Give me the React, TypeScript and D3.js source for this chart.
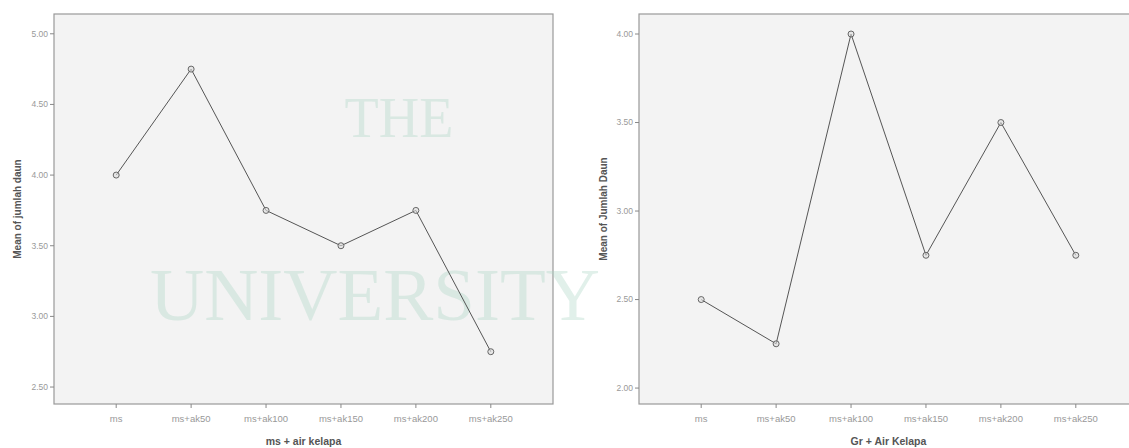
import React from "react";
import * as d3 from "d3";

const categories = ["ms", "ms+ak50", "ms+ak100", "ms+ak150", "ms+ak200", "ms+ak250"];
const leftValues = [4.0, 4.75, 3.75, 3.5, 3.75, 2.75];
const rightValues = [2.5, 2.25, 4.0, 2.75, 3.5, 2.75];
const leftTicks = [2.5, 3.0, 3.5, 4.0, 4.5, 5.0];
const rightTicks = [2.0, 2.5, 3.0, 3.5, 4.0];
const leftYTitle = "Mean of jumlah daun";
const rightYTitle = "Mean of Jumlah Daun";
const leftXTitle = "ms + air kelapa";
const rightXTitle = "Gr + Air Kelapa";

const W = 1129;
const H = 448;
const TOP = 14;
const BOTTOM = 404;
const FONT = "'Liberation Sans', Arial, sans-serif";

type PanelProps = {
  x0: number;
  x1: number;
  values: number[];
  ticks: number[];
  domain: [number, number];
  yTitle: string;
  xTitle: string;
  titleX: number;
  yTitleOffset: number;
};

function Panel({ x0, x1, values, ticks, domain, yTitle, xTitle, titleX, yTitleOffset }: PanelProps) {
  const x = d3.scalePoint<string>().domain(categories).range([x0, x1]).padding(0.83);
  const y = d3.scaleLinear().domain(domain).range([BOTTOM, TOP]);
  const line = d3
    .line<number>()
    .x((_, i) => x(categories[i]) as number)
    .y((d) => y(d));
  const midY = (TOP + BOTTOM) / 2;
  return (
    <g>
      {ticks.map((t) => (
        <g key={t}>
          <line x1={x0 - 4} x2={x0} y1={y(t)} y2={y(t)} stroke="#888" strokeWidth={1} />
          <text
            x={x0 - 6}
            y={y(t)}
            dy="0.33em"
            textAnchor="end"
            fontSize={8.5}
            fill="#999"
            fontFamily={FONT}
          >
            {t.toFixed(2)}
          </text>
        </g>
      ))}
      {categories.map((c) => (
        <g key={c}>
          <line x1={x(c)} x2={x(c)} y1={BOTTOM} y2={BOTTOM + 4} stroke="#888" strokeWidth={1} />
          <text
            x={x(c)}
            y={BOTTOM + 18}
            textAnchor="middle"
            fontSize={9.5}
            fill="#999"
            fontFamily={FONT}
          >
            {c}
          </text>
        </g>
      ))}
      <text
        transform={`translate(${x0 - yTitleOffset},${midY}) rotate(-90)`}
        textAnchor="middle"
        fontSize={10}
        fontWeight="bold"
        fill="#555"
        fontFamily={FONT}
      >
        {yTitle}
      </text>
      <text
        x={titleX}
        y={445}
        textAnchor="middle"
        fontSize={10.5}
        fontWeight="bold"
        fill="#555"
        fontFamily={FONT}
      >
        {xTitle}
      </text>
      <path d={line(values) || ""} fill="none" stroke="#555" strokeWidth={1} />
      {values.map((v, i) => (
        <circle
          key={i}
          cx={x(categories[i]) as number}
          cy={y(v)}
          r={3}
          fill="#ddd"
          fillOpacity={0.6}
          stroke="#666"
          strokeWidth={1}
        />
      ))}
    </g>
  );
}

export default function App() {
  const L0 = 54, L1 = 553, R0 = 639, R1 = 1138;
  return (
    <svg width={W} height={H} style={{ display: "block", position: "absolute", left: 0, top: 0 }}>
      <rect x={0} y={0} width={W} height={H} fill="#fff" />
      <rect x={L0} y={TOP} width={L1 - L0} height={BOTTOM - TOP} fill="#f3f3f3" stroke="#999" strokeWidth={1.2} />
      <rect x={R0} y={TOP} width={R1 - R0} height={BOTTOM - TOP} fill="#f3f3f3" stroke="#999" strokeWidth={1.2} />
      <g fill="#a9d3c2" fillOpacity={0.35} fontFamily="'Liberation Serif', 'DejaVu Serif', serif">
        <text x={399} y={137} fontSize={56} textAnchor="middle">
          THE
        </text>
        <text x={150} y={320} fontSize={75}>
          UNIVERSITY
        </text>
      </g>
      <Panel
        x0={L0}
        x1={L1}
        values={leftValues}
        ticks={leftTicks}
        domain={[2.38, 5.14]}
        yTitle={leftYTitle}
        xTitle={leftXTitle}
        titleX={(L0 + L1) / 2}
        yTitleOffset={33}
      />
      <Panel
        x0={R0}
        x1={R1}
        values={rightValues}
        ticks={rightTicks}
        domain={[1.91, 4.113]}
        yTitle={rightYTitle}
        xTitle={rightXTitle}
        titleX={(R0 + R1) / 2}
        yTitleOffset={32}
      />
    </svg>
  );
}
